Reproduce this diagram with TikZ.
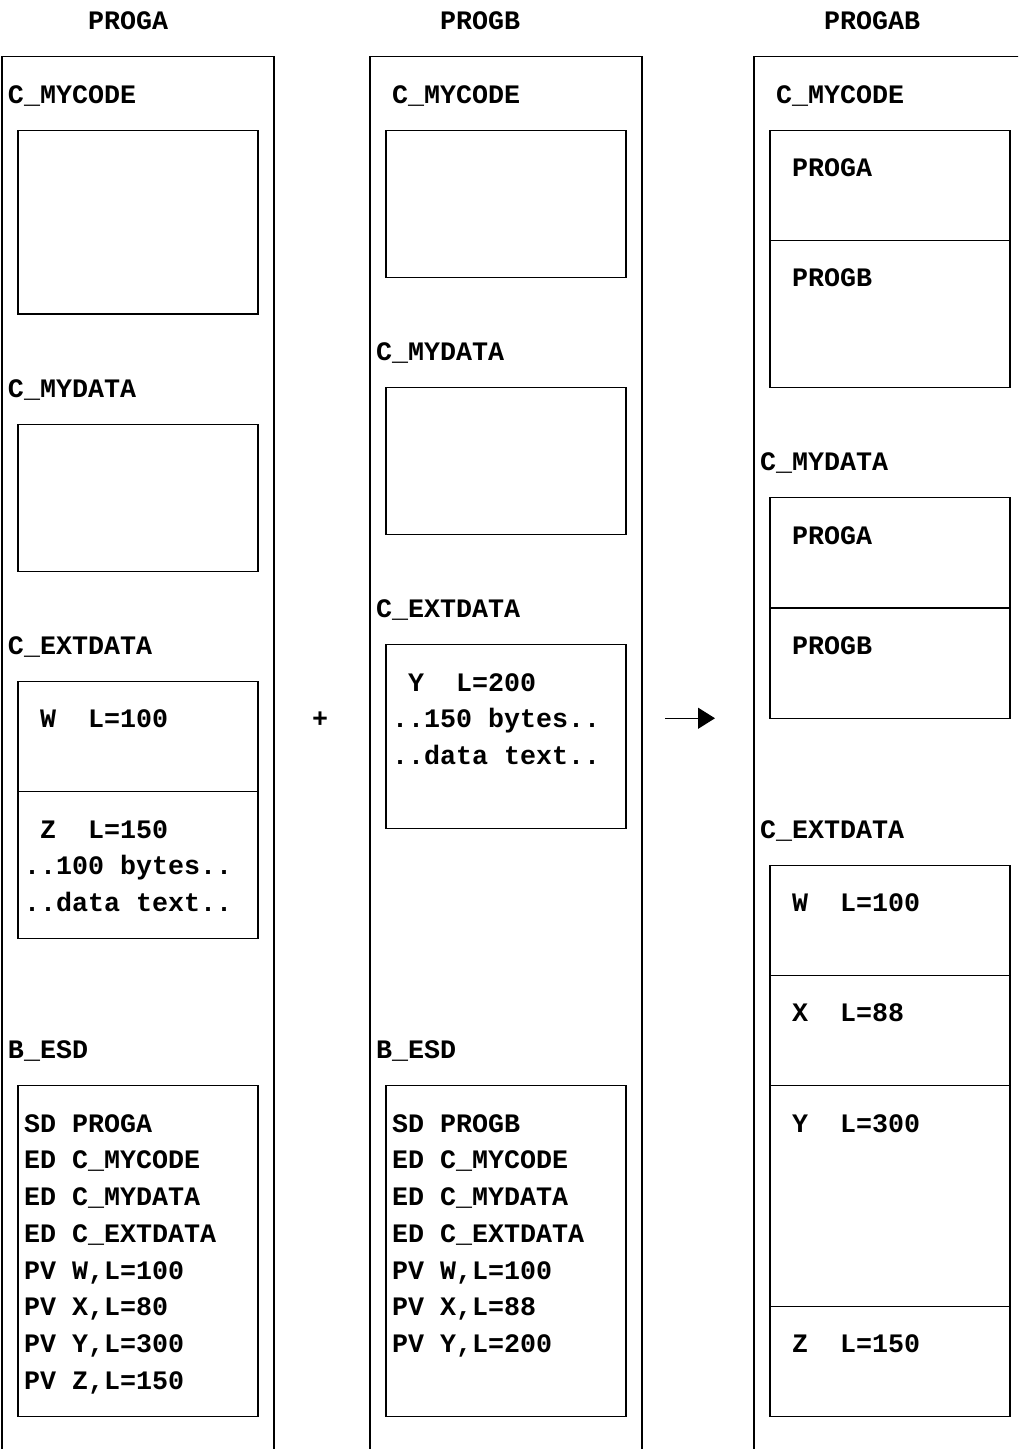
\documentclass[tikz,border=0pt]{standalone}
\usepackage{fontspec}
\setmainfont{Liberation Mono}
\usetikzlibrary{arrows.meta}
\newcommand\RowY[1]{(20+36.75*(#1))}
\newcommand\VX[1]{(18+16*(#1))}
\tikzset{
  ln/.style={line width=1.3pt, black},
  txt/.style={anchor=base west, inner sep=0pt, outer sep=0pt,
    font=\fontsize{26.67}{36.75}\selectfont\bfseries},
  arr/.style={ln, -{Triangle[length=17pt,width=21pt]}}
}
\newcommand\T[4]{\node[txt] (#1) at ({8+16*(#2)},{20+36.75*(#3)+9.5}) {#4};}
\newcommand\SegBox[3]{\draw[ln] ({\VX{#1}},{\RowY{#2}}) rectangle ({\VX{#1+15}},{\RowY{#3}});}
\newcommand\SegDiv[2]{\draw[ln] ({\VX{#1}},{\RowY{#2}}) -- ({\VX{#1+15}},{\RowY{#2}});}
\newcommand\ColOuter[1]{\draw[ln] ({\VX{#1}},1460) -- ({\VX{#1}},{\RowY{1}}) -- ({\VX{#1+17}},{\RowY{1}}) -- ({\VX{#1+17}},1460);}
\begin{document}
\begin{tikzpicture}[x=1pt,y=-1pt]
\useasboundingbox (0,0) rectangle (1018,1449);
\clip (0,0) rectangle (1018,1449);
\fill[white] (0,0) rectangle (1018,1449);

% titles
\T{tA}{5}{0}{PROGA}
\T{tB}{27}{0}{PROGB}
\T{tC}{51}{0}{PROGAB}

% outer columns
\ColOuter{-1}
\ColOuter{22}
\ColOuter{46}

% ---- column A ----
\T{aCode}{0}{2}{C\_MYCODE}
\SegBox{0}{3}{8}
\T{aData}{0}{10}{C\_MYDATA}
\SegBox{0}{11}{15}
\T{aExt}{0}{17}{C\_EXTDATA}
\SegBox{0}{18}{25}
\SegDiv{0}{21}
\T{aW}{2}{19}{W\ \ L=100}
\T{aZ}{2}{22}{Z\ \ L=150}
\T{aZb}{1}{23}{..100 bytes..}
\T{aZc}{1}{24}{..data text..}
\T{aEsd}{0}{28}{B\_ESD}
\SegBox{0}{29}{38}
\T{aE1}{1}{30}{SD PROGA}
\T{aE2}{1}{31}{ED C\_MYCODE}
\T{aE3}{1}{32}{ED C\_MYDATA}
\T{aE4}{1}{33}{ED C\_EXTDATA}
\T{aE5}{1}{34}{PV W,L=100}
\T{aE6}{1}{35}{PV X,L=80}
\T{aE7}{1}{36}{PV Y,L=300}
\T{aE8}{1}{37}{PV Z,L=150}

% plus
\T{plus}{19}{19}{+}

% ---- column B ----
\T{bCode}{24}{2}{C\_MYCODE}
\SegBox{23}{3}{7}
\T{bData}{23}{9}{C\_MYDATA}
\SegBox{23}{10}{14}
\T{bExt}{23}{16}{C\_EXTDATA}
\SegBox{23}{17}{22}
\T{bY}{25}{18}{Y\ \ L=200}
\T{bYb}{24}{19}{..150 bytes..}
\T{bYc}{24}{20}{..data text..}
\T{bEsd}{23}{28}{B\_ESD}
\SegBox{23}{29}{38}
\T{bE1}{24}{30}{SD PROGB}
\T{bE2}{24}{31}{ED C\_MYCODE}
\T{bE3}{24}{32}{ED C\_MYDATA}
\T{bE4}{24}{33}{ED C\_EXTDATA}
\T{bE5}{24}{34}{PV W,L=100}
\T{bE6}{24}{35}{PV X,L=88}
\T{bE7}{24}{36}{PV Y,L=200}

% arrow
\coordinate (arrS) at (665,{\RowY{19}});
\coordinate (arrE) at (715,{\RowY{19}});
\draw[arr] (arrS) -- (arrE);

% ---- column C ----
\T{cCode}{48}{2}{C\_MYCODE}
\SegBox{47}{3}{10}
\SegDiv{47}{6}
\T{cCA}{49}{4}{PROGA}
\T{cCB}{49}{7}{PROGB}
\T{cData}{47}{12}{C\_MYDATA}
\SegBox{47}{13}{19}
\SegDiv{47}{16}
\T{cDA}{49}{14}{PROGA}
\T{cDB}{49}{17}{PROGB}
\T{cExt}{47}{22}{C\_EXTDATA}
\SegBox{47}{23}{38}
\SegDiv{47}{26}
\SegDiv{47}{29}
\SegDiv{47}{35}
\T{cW}{49}{24}{W\ \ L=100}
\T{cX}{49}{27}{X\ \ L=88}
\T{cY}{49}{30}{Y\ \ L=300}
\T{cZ}{49}{36}{Z\ \ L=150}
\end{tikzpicture}
\end{document}
